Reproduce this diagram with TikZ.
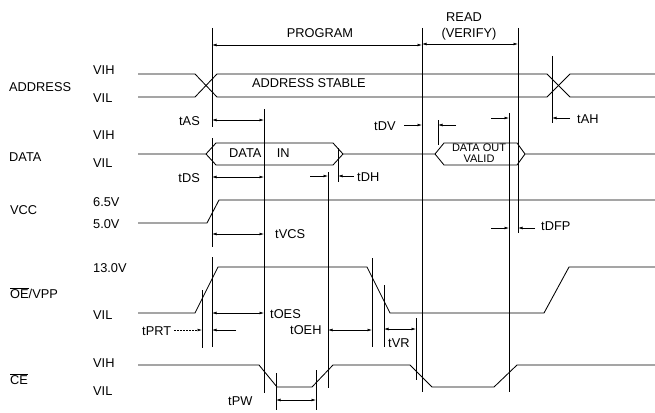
\documentclass[tikz,border=0pt]{standalone}
\usepackage{fontspec}
\setmainfont{Liberation Sans}
\usetikzlibrary{arrows.meta}
\begin{document}
\begin{tikzpicture}[x=1pt,y=-1pt,
  font=\fontsize{12.8}{13}\selectfont,
  sig/.style={line width=0.85pt},
  ext/.style={line width=0.6pt},
  dim/.style={line width=0.6pt,{Latex[length=4.5pt,width=2.8pt]}-{Latex[length=4.5pt,width=2.8pt]}},
  pto/.style={line width=0.6pt,-{Latex[length=4.5pt,width=2.8pt]}},
  lbl/.style={inner sep=0pt,text height=9.2pt,text depth=0pt},
  lw/.style={lbl,anchor=west},
  le/.style={lbl,anchor=east},
  lc/.style={lbl,anchor=center}]
\useasboundingbox (0,0) rectangle (655,412);

% ---------- signals ----------
% ADDRESS
\draw[sig] (138,74) -- (195,74) -- (217,97) -- (547,97) -- (570,74) -- (655,74);
\draw[sig] (138,97) -- (195,97) -- (217,74) -- (547,74) -- (570,97) -- (655,97);
% DATA
\draw[sig] (138,154) -- (206,154) -- (216,143) -- (333,143) -- (343,154) -- (435,154)
  -- (444,143) -- (517,143) -- (525,154) -- (655,154);
\draw[sig] (206,154) -- (216,165) -- (333,165) -- (343,154);
\draw[sig] (435,154) -- (444,165) -- (517,165) -- (525,154);
% VCC
\draw[sig] (138,223) -- (207,223) -- (219,200) -- (655,200);
% OE/VPP
\draw[sig] (138,313) -- (195,313) -- (218,267) -- (367,267) -- (390,313) -- (544,313)
  -- (569,267) -- (655,267);
% CE
\draw[sig] (138,365) -- (259,365) -- (277,387) -- (312,387) -- (333,365) -- (410,365)
  -- (432,387) -- (494,387) -- (517,365) -- (655,365);

% ---------- extension lines ----------
\draw[ext] (212,28) -- (212,127);
\draw[ext] (212,138) -- (212,247);
\draw[ext] (212,257) -- (212,347);
\draw[ext] (264,109) -- (264,393);
\draw[ext] (328,172) -- (328,388);
\draw[ext] (338,148) -- (338,182);
\draw[ext] (422,28) -- (422,392);
\draw[ext] (438,120) -- (438,145);
\draw[ext] (509,113) -- (509,392);
\draw[ext] (518,28) -- (518,233);
\draw[ext] (552,56) -- (552,123);
\draw[ext] (202,290) -- (202,348);
\draw[ext] (372,258) -- (372,347);
\draw[ext] (384,285) -- (384,347);
\draw[ext] (416,318) -- (416,380);
\draw[ext] (276,373) -- (276,410);
\draw[ext] (316,370) -- (316,410);

% ---------- dimension arrows ----------
\draw[dim] (212,45) -- (422,45);
\draw[dim] (422,44) -- (518,44);
\draw[dim] (212,120) -- (264,120);
\draw[dim] (212,177) -- (264,177);
\draw[dim] (212,234) -- (264,234);
\draw[dim] (212,313) -- (264,313);
\draw[dim] (328,330) -- (372,330);
\draw[dim] (384,329) -- (416,329);
\draw[dim] (276,400) -- (316,400);
% outside arrows
\draw[pto] (310,176) -- (328,176);
\draw[pto] (354,176) -- (338,176);
\draw[pto] (404,125) -- (422,125);
\draw[pto] (456,125) -- (438,125);
\draw[pto] (491,118) -- (509,118);
\draw[pto] (491,228) -- (509,228);
\draw[pto] (535,228) -- (518,228);
\draw[pto] (570,118) -- (552,118);
\draw[pto,dashed,dash pattern=on 2pt off 1pt] (174,330) -- (202,330);
\draw[pto] (236,330) -- (212,330);

% ---------- labels ----------
\node[lw] (la) at (9,87) {ADDRESS};
\node[lw] (la1) at (93,70) {VIH};
\node[lw] (la2) at (93,98) {VIL};
\node[lw] (ld) at (9,157) {DATA};
\node[lw] (ld1) at (93,135) {VIH};
\node[lw] (ld2) at (93,163) {VIL};
\node[lw] (lv) at (10,210) {VCC};
\node[lw] (lv1) at (93,202) {6.5V};
\node[lw] (lv2) at (93,224) {5.0V};
\node[lw] (lo) at (10,294) {$\overline{\mbox{OE}}$/VPP};
\node[lw] (lo1) at (93,268) {13.0V};
\node[lw] (lo2) at (93,315) {VIL};
\node[lw] (lce) at (10,380) {$\overline{\mbox{CE}}$};
\node[lw] (lc1) at (93,363) {VIH};
\node[lw] (lc2) at (93,391) {VIL};

\node[lc] (prog) at (320,33) {PROGRAM};
\node[lc] (read) at (464,17) {READ};
\node[lc] (ver) at (469,33) {(VERIFY)};
\node[lw] (as) at (252,83) {ADDRESS STABLE};
\node[lw] (din) at (229,153) {DATA\hspace{1.2em}IN};
\node[lc,font=\fontsize{11}{11}\selectfont,text height=7.9pt] (dout) at (479,148) {DATA OUT};
\node[lc,font=\fontsize{11}{11}\selectfont,text height=7.9pt] (valid) at (479,159) {VALID};

\node[le] (tas) at (200,121) {tAS};
\node[le] (tds) at (200,178) {tDS};
\node[lw] (tvcs) at (275,234) {tVCS};
\node[lw] (toes) at (270,314) {tOES};
\node[lw] (toeh) at (290,330) {tOEH};
\node[lw] (tprt) at (142,331) {tPRT};
\node[lw] (tpw) at (228,401) {tPW};
\node[lw] (tvr) at (388,343) {tVR};
\node[lw] (tdh) at (357,177) {tDH};
\node[lw] (tdv) at (374,126) {tDV};
\node[lw] (tah) at (577,119) {tAH};
\node[lw] (tdfp) at (541,226) {tDFP};
\end{tikzpicture}
\end{document}
